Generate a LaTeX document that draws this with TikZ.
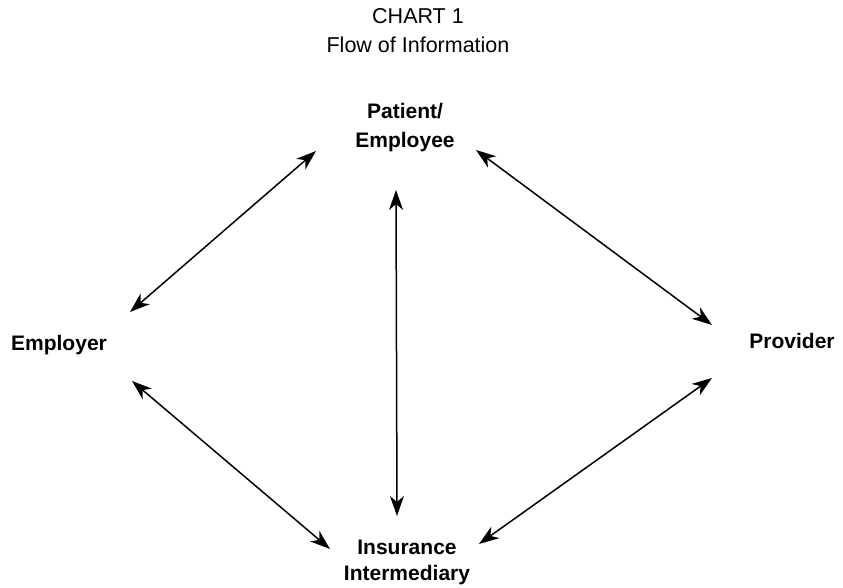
\documentclass[tikz,border=0pt]{standalone}
\usepackage{fontspec}
\setmainfont{Liberation Sans}
\usetikzlibrary{arrows.meta}
\begin{document}
\begin{tikzpicture}[x=1pt,y=-1pt,
  lbl/.style={font=\fontsize{21}{29}\selectfont\bfseries, align=center, inner sep=0pt, anchor=north},
  ttl/.style={font=\fontsize{21.5}{29}\selectfont, align=center, inner sep=0pt, anchor=north},
  link/.style={line width=1.5pt, {Stealth[length=20pt,width=14pt,inset=6pt]}-{Stealth[length=20pt,width=14pt,inset=6pt]}}]
\useasboundingbox (0,0) rectangle (843,588);
\node[ttl] (title) at (418,8) {CHART 1\\Flow of Information};
\node[lbl] (pat) at (405,103) {Patient/\\Employee};
\node[lbl] (emp) at (59,335) {Employer};
\node[lbl] (prov) at (792,333) {Provider};
\node[lbl, font=\fontsize{21}{26}\selectfont\bfseries] (ins) at (407,540) {Insurance\\Intermediary};
\coordinate (pe1) at (130,312);
\coordinate (pe2) at (316,151);
\coordinate (pp1) at (476,150);
\coordinate (pp2) at (712,325);
\coordinate (pi1) at (396,190);
\coordinate (pi2) at (397,516);
\coordinate (ei1) at (132,381);
\coordinate (ei2) at (330,549);
\coordinate (ri1) at (712,378);
\coordinate (ri2) at (479,544);
\draw[link] (pe1) -- (pe2);
\draw[link] (pp1) -- (pp2);
\draw[link] (pi1) -- (pi2);
\draw[link] (ei1) -- (ei2);
\draw[link] (ri1) -- (ri2);
\end{tikzpicture}
\end{document}
